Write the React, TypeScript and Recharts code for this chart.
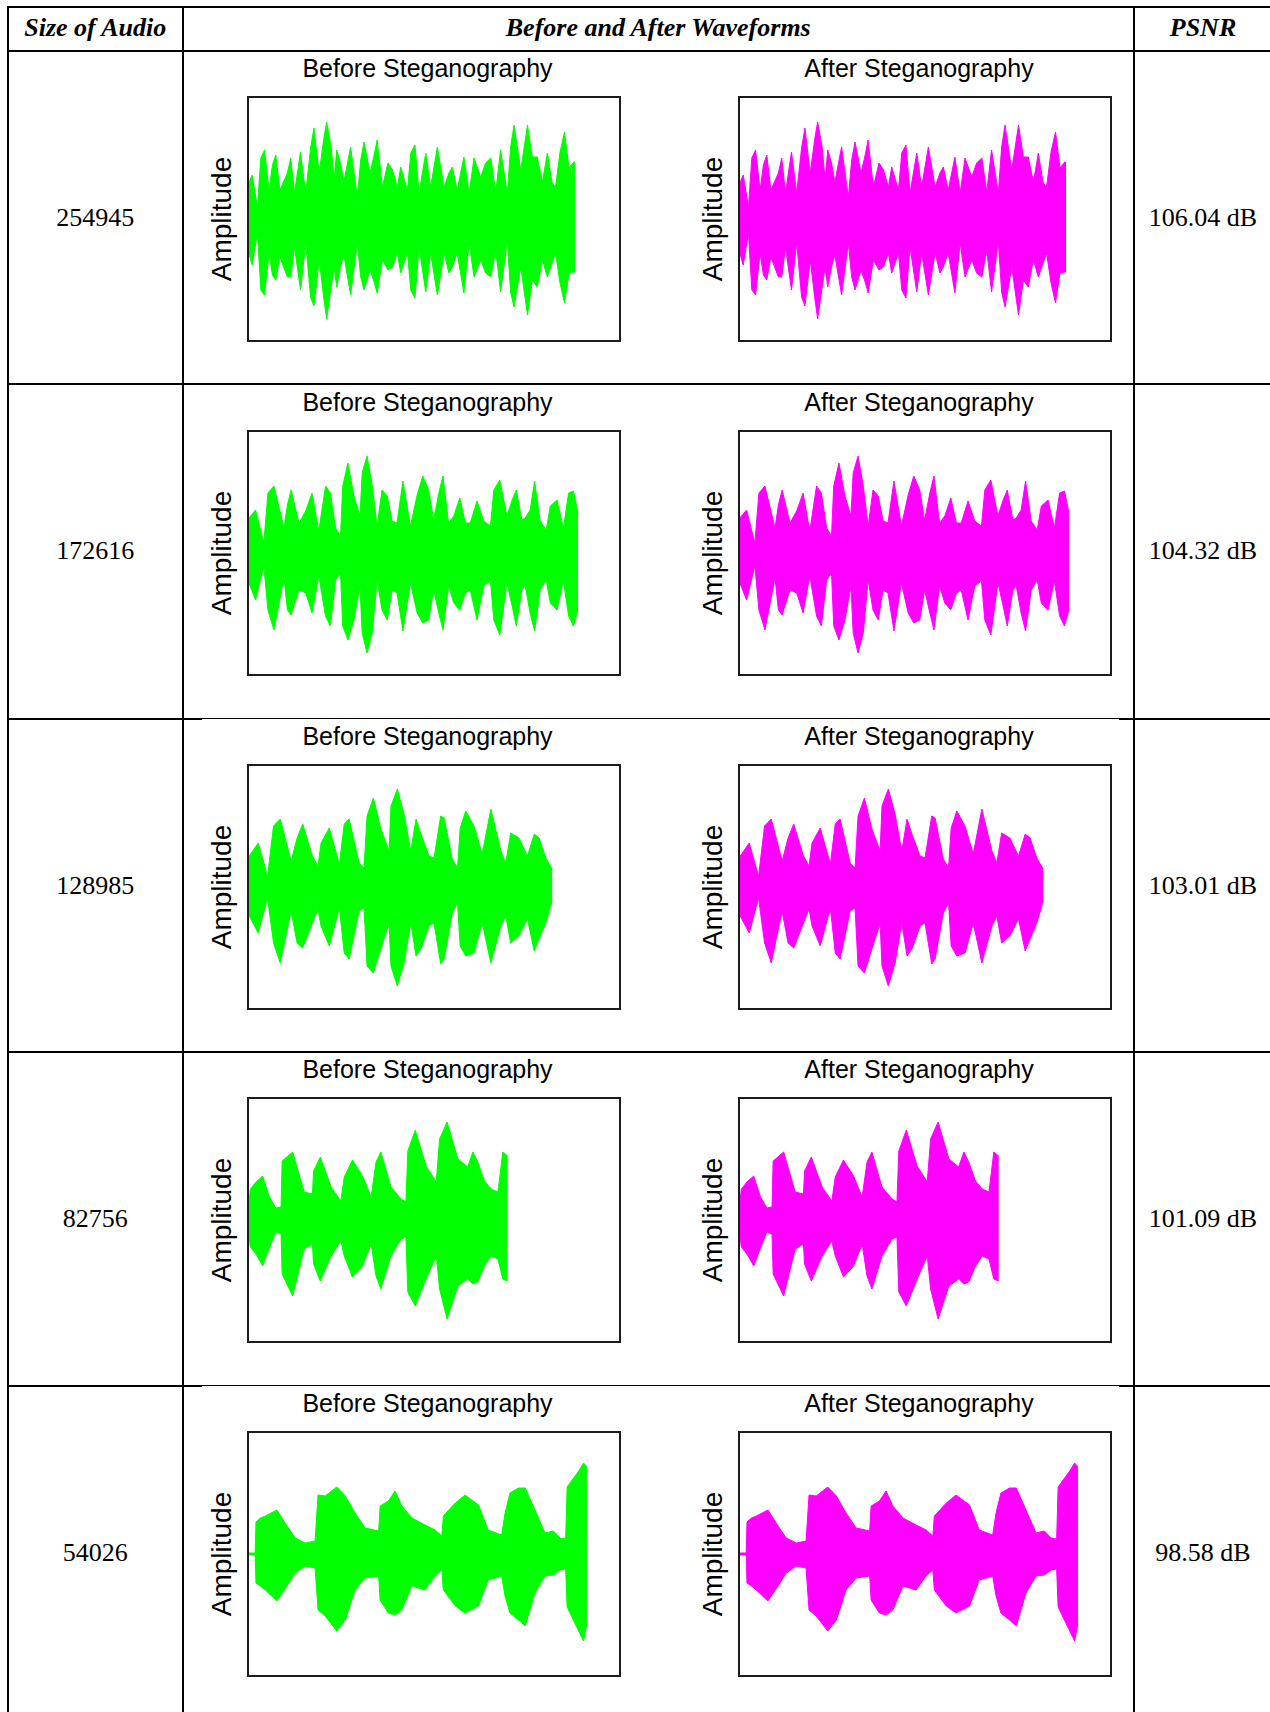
import { Area, AreaChart, XAxis, YAxis } from 'recharts';

// ── table text ──────────────────────────────────────────────────────────────
const HEADERS = ['Size of Audio', 'Before and After Waveforms', 'PSNR'];
const AUDIO_SIZES = ['254945', '172616', '128985', '82756', '54026'];
const PSNR_VALUES = ['106.04 dB', '104.32 dB', '103.01 dB', '101.09 dB', '98.58 dB'];
const PANEL_TITLES = ['Before Steganography', 'After Steganography'];
const Y_LABEL = 'Amplitude';

// ── waveform envelopes ──────────────────────────────────────────────────────
// time = % of the x axis, upper/lower = peak amplitude (normalised).
// The stego signal is visually identical (PSNR ~100 dB) so both panels share one envelope.
const clip1Time = [
  0, 1.4, 2.8, 3.7, 4.7, 5.9, 6.8, 7.7, 8.8, 10.8,
  11.7, 12.7, 14.3, 15.7, 17.0, 17.9, 19.3, 20.6, 21.3, 22.5,
  23.3, 24.0, 25.0, 25.9, 27.7, 29.5, 30.4, 31.3, 32.9, 34.0,
  34.8, 36.2, 37.7, 38.9, 40.2, 41.1, 42.9, 43.8, 44.9, 46.0,
  47.8, 49.1, 50.9, 52.7, 54.0, 54.9, 56.2, 58.0, 59.4, 60.7,
  62.5, 63.8, 65.2, 66.5, 67.8, 69.6, 70.5, 71.4, 73.2, 75.0,
  76.3, 77.6, 79.0, 80.3, 81.6, 82.5, 83.7, 84.9, 86.1, 87.4, 87.7,
];
const clip1Upper = [
  0.32, 0.44, 0.12, 0.61, 0.69, 0.29, 0.54, 0.64, 0.29, 0.46,
  0.61, 0.26, 0.67, 0.26, 0.71, 0.91, 0.46, 0.82, 0.97, 0.72,
  0.39, 0.69, 0.56, 0.37, 0.72, 0.22, 0.59, 0.77, 0.46, 0.64,
  0.79, 0.32, 0.56, 0.49, 0.32, 0.52, 0.29, 0.66, 0.74, 0.26,
  0.66, 0.32, 0.72, 0.32, 0.46, 0.52, 0.29, 0.62, 0.26, 0.61,
  0.42, 0.56, 0.61, 0.27, 0.69, 0.26, 0.72, 0.94, 0.49, 0.94,
  0.62, 0.62, 0.37, 0.66, 0.36, 0.32, 0.67, 0.87, 0.51, 0.57, 0.57,
];
const clip1Lower = [
  -0.28, -0.46, -0.14, -0.71, -0.76, -0.34, -0.56, -0.61, -0.38, -0.58,
  -0.58, -0.28, -0.71, -0.24, -0.78, -0.87, -0.41, -0.81, -1.0, -0.68,
  -0.48, -0.68, -0.48, -0.36, -0.76, -0.24, -0.58, -0.71, -0.51, -0.63,
  -0.74, -0.41, -0.51, -0.48, -0.34, -0.54, -0.34, -0.71, -0.79, -0.28,
  -0.73, -0.34, -0.76, -0.34, -0.54, -0.48, -0.34, -0.74, -0.24, -0.58,
  -0.41, -0.54, -0.58, -0.31, -0.73, -0.23, -0.73, -0.88, -0.48, -0.96,
  -0.61, -0.68, -0.41, -0.58, -0.44, -0.34, -0.64, -0.84, -0.54, -0.53, -0.53,
];

const clip2Time = [
  0.1, 0.5, 2.3, 4.5, 5.6, 7.2, 9.9, 10.8, 11.8, 13.9, 15.7,
  17.4, 19.2, 21.0, 22.3, 23.7, 25.0, 25.6, 27.0, 28.6, 30.2,
  30.8, 32.1, 33.5, 34.8, 36.1, 37.5, 38.8, 40.1, 41.7, 43.7,
  45.5, 47.0, 48.6, 49.9, 51.3, 52.4, 53.9, 55.3, 56.9, 58.4,
  59.7, 61.5, 63.3, 65.1, 66.0, 67.6, 69.5, 70.9, 72.0, 73.5,
  74.4, 75.7, 76.9, 78.4, 80.0, 81.1, 82.9, 84.6, 86.0, 87.3, 88.5,
];
const clip2Upper = [
  0.01, 0.35, 0.43, 0.10, 0.60, 0.67, 0.25, 0.48, 0.63, 0.30, 0.42,
  0.60, 0.22, 0.67, 0.60, 0.25, 0.17, 0.67, 0.90, 0.57, 0.37,
  0.80, 0.97, 0.67, 0.27, 0.63, 0.57, 0.32, 0.30, 0.72, 0.27,
  0.58, 0.77, 0.63, 0.33, 0.60, 0.77, 0.30, 0.37, 0.55, 0.30,
  0.30, 0.52, 0.32, 0.27, 0.63, 0.73, 0.37, 0.53, 0.63, 0.33,
  0.35, 0.43, 0.72, 0.32, 0.23, 0.47, 0.53, 0.25, 0.60, 0.62, 0.40,
];
const clip2Lower = [
  -0.01, -0.30, -0.47, -0.13, -0.57, -0.77, -0.25, -0.57, -0.62, -0.37, -0.40,
  -0.60, -0.23, -0.63, -0.73, -0.27, -0.20, -0.73, -0.87, -0.67, -0.33,
  -0.80, -1.0, -0.80, -0.27, -0.57, -0.67, -0.37, -0.40, -0.78, -0.30,
  -0.60, -0.70, -0.67, -0.37, -0.60, -0.77, -0.33, -0.50, -0.57, -0.40,
  -0.37, -0.67, -0.33, -0.28, -0.67, -0.82, -0.30, -0.53, -0.73, -0.37,
  -0.33, -0.60, -0.78, -0.37, -0.27, -0.50, -0.57, -0.28, -0.63, -0.73, -0.57,
];

const clip3Time = [
  0, 0.6, 3.0, 5.5, 7.1, 8.9, 11.8, 13.4, 14.9, 17.5, 19.0,
  19.8, 22.0, 24.7, 26.0, 27.3, 30.0, 31.3, 32.1, 33.8, 35.8,
  38.0, 38.5, 40.2, 42.0, 43.8, 45.2, 46.5, 48.7, 50.0, 51.8,
  52.7, 54.9, 56.3, 57.0, 58.5, 60.7, 62.9, 65.2, 67.9, 69.2,
  70.5, 72.7, 75.0, 76.8, 78.1, 79.9, 81.6,
];
const clip3Upper = [
  0.01, 0.31, 0.44, 0.11, 0.61, 0.68, 0.26, 0.49, 0.63, 0.31, 0.21,
  0.44, 0.59, 0.23, 0.63, 0.68, 0.24, 0.19, 0.71, 0.89, 0.58,
  0.36, 0.81, 0.98, 0.73, 0.36, 0.68, 0.53, 0.31, 0.29, 0.71,
  0.69, 0.28, 0.19, 0.59, 0.76, 0.61, 0.33, 0.78, 0.36, 0.24,
  0.54, 0.49, 0.31, 0.53, 0.49, 0.29, 0.18,
];
const clip3Lower = [
  -0.01, -0.29, -0.46, -0.11, -0.56, -0.76, -0.24, -0.56, -0.61, -0.36, -0.22,
  -0.39, -0.59, -0.21, -0.66, -0.72, -0.24, -0.21, -0.79, -0.86, -0.62,
  -0.36, -0.79, -0.99, -0.76, -0.36, -0.69, -0.62, -0.39, -0.36, -0.77,
  -0.72, -0.26, -0.16, -0.59, -0.69, -0.66, -0.36, -0.76, -0.39, -0.29,
  -0.56, -0.49, -0.32, -0.64, -0.52, -0.36, -0.14,
];

const clip4Time = [
  0, 0.9, 2.4, 4.2, 5.9, 7.7, 9.1, 9.4, 12.2, 15.3, 17.5,
  17.8, 19.6, 22.5, 25.1, 26.0, 28.2, 30.9, 33.2, 34.5, 35.8,
  38.5, 41.2, 42.5, 43.0, 45.0, 47.9, 50.6, 51.5, 53.5, 56.4,
  59.0, 60.4, 61.7, 63.5, 65.3, 67.1, 68.4, 69.7,
];
const clip4Upper = [
  0.01, 0.31, 0.38, 0.44, 0.24, 0.12, 0.13, 0.59, 0.68, 0.28, 0.26,
  0.49, 0.63, 0.33, 0.19, 0.43, 0.60, 0.44, 0.23, 0.58, 0.68,
  0.33, 0.21, 0.18, 0.69, 0.90, 0.54, 0.38, 0.81, 0.98, 0.61,
  0.53, 0.68, 0.58, 0.39, 0.31, 0.28, 0.68, 0.64,
];
const clip4Lower = [
  -0.01, -0.27, -0.34, -0.46, -0.29, -0.12, -0.14, -0.54, -0.76, -0.29, -0.24,
  -0.44, -0.61, -0.36, -0.21, -0.36, -0.57, -0.46, -0.24, -0.56, -0.69,
  -0.36, -0.19, -0.17, -0.72, -0.86, -0.59, -0.36, -0.69, -0.99, -0.66,
  -0.59, -0.64, -0.62, -0.46, -0.36, -0.39, -0.59, -0.61,
];

const clip5Time = [
  0.3, 2.2, 2.4, 3.6, 4.9, 8.0, 10.7, 12.9, 15.6, 18.2,
  19.0, 20.9, 24.0, 26.3, 28.9, 31.6, 35.2, 35.6, 37.8, 39.6,
  41.4, 44.1, 47.6, 50.3, 52.1, 52.5, 55.7, 58.3, 61.9, 64.5,
  68.1, 69.0, 70.3, 72.6, 74.4, 77.0, 79.7, 81.9, 83.7, 85.2,
  85.6, 88.7, 90.0, 90.9,
];
const clip5Upper = [
  0.01, 0.01, 0.32, 0.36, 0.38, 0.44, 0.28, 0.16, 0.11, 0.13,
  0.59, 0.58, 0.67, 0.58, 0.41, 0.26, 0.23, 0.48, 0.53, 0.63,
  0.48, 0.36, 0.29, 0.24, 0.18, 0.38, 0.51, 0.59, 0.49, 0.24,
  0.19, 0.41, 0.61, 0.66, 0.66, 0.44, 0.21, 0.23, 0.16, 0.15,
  0.67, 0.83, 0.91, 0.87,
];
const clip5Lower = [
  -0.01, -0.01, -0.29, -0.32, -0.36, -0.47, -0.32, -0.19, -0.12, -0.14,
  -0.56, -0.62, -0.77, -0.66, -0.36, -0.24, -0.22, -0.46, -0.59, -0.61,
  -0.56, -0.32, -0.36, -0.22, -0.16, -0.36, -0.52, -0.59, -0.52, -0.26,
  -0.22, -0.42, -0.59, -0.66, -0.72, -0.39, -0.22, -0.21, -0.16, -0.15,
  -0.53, -0.77, -0.87, -0.70,
];

const CLIPS = [
  { time: clip1Time, upper: clip1Upper, lower: clip1Lower },
  { time: clip2Time, upper: clip2Upper, lower: clip2Lower },
  { time: clip3Time, upper: clip3Upper, lower: clip3Lower },
  { time: clip4Time, upper: clip4Upper, lower: clip4Lower },
  { time: clip5Time, upper: clip5Upper, lower: clip5Lower },
];

const BEFORE_COLOR = '#00FF00';
const AFTER_COLOR = '#FF00FF';

// ── layout ──────────────────────────────────────────────────────────────────
const PAGE_W = 1270;
const PAGE_H = 1712;
const TABLE_LEFT = 7.5;
const TABLE_TOP = 6.5;
const COL1 = 183;
const COL2 = 1133.5;
const ROW_LINES = [50.5, 384, 718.5, 1051.6, 1385.5];
const BOX_W = 374;
const BOX_H = 246;
const BOX_LEFT = [246.5, 738];
const SERIF = '"Liberation Serif", "Times New Roman", serif';
const SANS = '"Liberation Sans", Arial, Helvetica, sans-serif';

function Waveform({ clip, color, left, top }: any) {
  const data = clip.time.map((t: number, i: number) => ({ t, band: [clip.lower[i], clip.upper[i]] }));
  return (
    <div style={{ position: 'absolute', left, top, width: BOX_W, height: BOX_H }}>
      <AreaChart width={BOX_W} height={BOX_H} data={data} margin={{ top: 0, right: 0, bottom: 0, left: 0 }}>
        <XAxis type="number" dataKey="t" domain={[0, 100]} hide />
        <YAxis type="number" domain={[-1.23, 1.23]} hide allowDataOverflow />
        <Area
          type="linear"
          dataKey="band"
          stroke={color}
          strokeWidth={1}
          fill={color}
          fillOpacity={1}
          dot={false}
          activeDot={false}
          isAnimationActive={false}
        />
      </AreaChart>
      <div style={{ position: 'absolute', inset: 0, border: '2px solid #1c1c1c', pointerEvents: 'none' }} />
    </div>
  );
}

function HLine({ x1, x2, y, w = 2 }: { x1: number; x2: number; y: number; w?: number }) {
  return <div style={{ position: 'absolute', left: x1, top: y - w / 2, width: x2 - x1, height: w, background: '#000' }} />;
}

function VLine({ x, y1, y2, w = 2 }: { x: number; y1: number; y2: number; w?: number }) {
  return <div style={{ position: 'absolute', left: x - w / 2, top: y1, width: w, height: y2 - y1, background: '#000' }} />;
}

function CellText({ text, cx, cy, font, size, bold, italic }: any) {
  return (
    <div
      style={{
        position: 'absolute',
        left: cx - 200,
        top: cy - 20,
        width: 400,
        height: 40,
        lineHeight: '40px',
        textAlign: 'center',
        fontFamily: font,
        fontSize: size,
        fontWeight: bold ? 700 : 400,
        fontStyle: italic ? 'italic' : 'normal',
        color: '#000',
        whiteSpace: 'nowrap',
      }}
    >
      {text}
    </div>
  );
}

export default function App() {
  const headerCenters = [(TABLE_LEFT + COL1) / 2, (COL1 + COL2) / 2, 1203];
  return (
    <div style={{ position: 'absolute', left: 0, top: 0, width: PAGE_W, height: PAGE_H, overflow: 'hidden', background: '#fff' }}>
      {/* table grid */}
      <HLine x1={TABLE_LEFT - 1} x2={PAGE_W} y={TABLE_TOP} />
      <VLine x={TABLE_LEFT} y1={TABLE_TOP} y2={PAGE_H} />
      <VLine x={COL1} y1={TABLE_TOP} y2={PAGE_H} />
      <VLine x={COL2} y1={TABLE_TOP} y2={PAGE_H} />
      {ROW_LINES.map((y, i) =>
        i === 2 || i === 4 ? (
          <div key={i}>
            <HLine x1={TABLE_LEFT} x2={202} y={y + 0.5} />
            <HLine x1={202} x2={1119} y={y} w={1} />
            <HLine x1={1119} x2={PAGE_W} y={y + 0.5} />
          </div>
        ) : (
          <HLine key={i} x1={TABLE_LEFT} x2={PAGE_W} y={y} />
        )
      )}

      {HEADERS.map((h, i) => (
        <CellText key={h} text={h} cx={headerCenters[i]} cy={27.5} font={SERIF} size={26} bold italic />
      ))}

      {CLIPS.map((clip, r) => {
        const rowTop = ROW_LINES[r];
        const rowMid = rowTop + 167;
        const boxTop = rowTop + 45.5;
        return (
          <div key={r}>
            <CellText text={AUDIO_SIZES[r]} cx={headerCenters[0]} cy={rowMid} font={SERIF} size={26} />
            <CellText text={PSNR_VALUES[r]} cx={headerCenters[2]} cy={rowMid} font={SERIF} size={26} />
            {[0, 1].map((side) => (
              <div key={side}>
                <CellText
                  text={PANEL_TITLES[side]}
                  cx={BOX_LEFT[side] + 181}
                  cy={rowTop + 17.5}
                  font={SANS}
                  size={25}
                />
                <div
                  style={{
                    position: 'absolute',
                    left: BOX_LEFT[side] - 25 - 100,
                    top: boxTop + BOX_H / 2 - 18,
                    width: 200,
                    height: 36,
                    lineHeight: '36px',
                    textAlign: 'center',
                    fontFamily: SANS,
                    fontSize: 28,
                    transform: 'rotate(-90deg)',
                  }}
                >
                  {Y_LABEL}
                </div>
                <Waveform
                  clip={clip}
                  color={side === 0 ? BEFORE_COLOR : AFTER_COLOR}
                  left={BOX_LEFT[side]}
                  top={boxTop}
                />
              </div>
            ))}
          </div>
        );
      })}
    </div>
  );
}
